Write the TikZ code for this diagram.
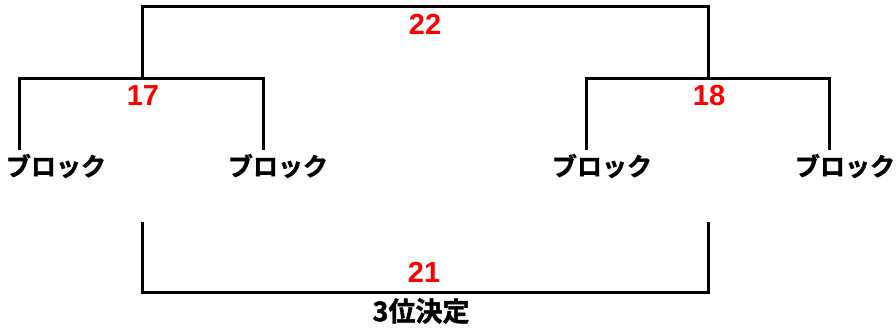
\documentclass[tikz,border=0pt]{standalone}
\usepackage{fontspec}
\setmainfont{Liberation Sans}
\newfontfamily\jpfont{Noto Sans CJK JP Bold}[FakeBold=1.6]
\begin{document}
\begin{tikzpicture}[x=1bp,y=-1bp,
  line/.style={line width=3bp, line cap=butt, line join=miter},
  num/.style={text=red, font=\bfseries\fontsize{29bp}{29bp}\selectfont, inner sep=0pt, anchor=center},
  blk/.style={font=\jpfont\fontsize{25bp}{25bp}\selectfont, inner sep=0pt, anchor=center},
  lab/.style={font=\jpfont\fontsize{27bp}{27bp}\selectfont, inner sep=0pt, anchor=center}]
\useasboundingbox (0,0) rectangle (896,328);
% block nodes
\node[blk] (b1) at (56,166) {ブロック};
\node[blk] (b2) at (278,166) {ブロック};
\node[blk] (b3) at (602,166) {ブロック};
\node[blk] (b4) at (845,166) {ブロック};
% joints
\coordinate (l1) at (19,150);
\coordinate (l2) at (263,150);
\coordinate (r1) at (586,150);
\coordinate (r2) at (829,150);
\coordinate (lm) at (142,78);
\coordinate (rm) at (708,78);
\coordinate (top) at (425,6);
\coordinate (bl) at (142,222);
\coordinate (br) at (708,222);
% brackets
\draw[line] (l1) |- (lm) -| (l2);
\draw[line] (r1) |- (rm) -| (r2);
\draw[line] (lm) |- (top) -| (rm);
\draw[line] (bl) -- (142,292) -- (708,292) -- (br);
% labels
\node[num] (n22) at (425,24) {22};
\node[num] (n17) at (143,96) {17};
\node[num] (n18) at (709,96) {18};
\node[num] (n21) at (424,272) {21};
\node[lab] (third) at (421,311) {3位決定};
\end{tikzpicture}
\end{document}
